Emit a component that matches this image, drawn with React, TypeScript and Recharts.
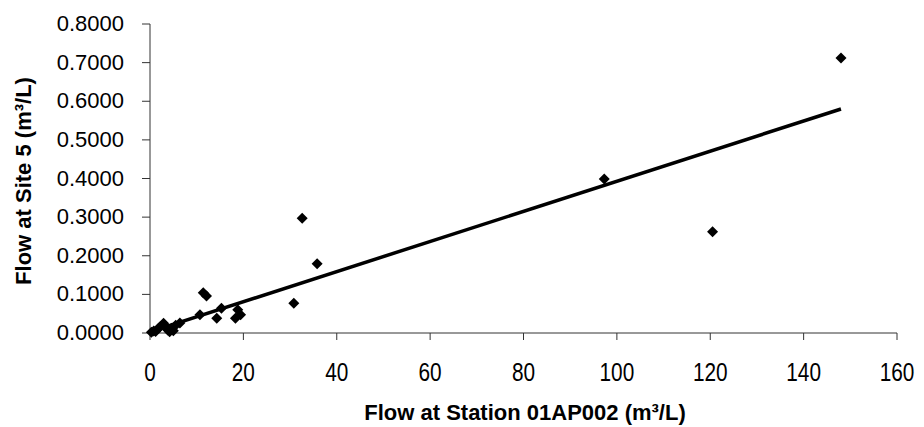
import * as React from "react"
import { ScatterChart, Scatter, XAxis, YAxis } from "recharts"

// flow at station 01AP002 vs flow at site 5
const stationFlow = [0.3, 0.8, 1.2, 1.8, 2.2, 2.9, 3.3, 3.8, 4.2, 4.6, 5.0, 5.5, 6.4, 10.7, 11.4, 12.1, 14.3, 15.3, 18.3, 18.8, 19.4, 30.8, 32.6, 35.8, 97.3, 120.5, 148]
const siteFlow = [0.002, 0.005, 0.004, 0.012, 0.016, 0.025, 0.018, 0.008, 0.003, 0.012, 0.006, 0.02, 0.026, 0.047, 0.104, 0.096, 0.038, 0.064, 0.038, 0.06, 0.047, 0.077, 0.297, 0.179, 0.399, 0.262, 0.712]

// linear trendline end points
const trendX = [0, 148]
const trendY = [0.003, 0.58]

const xTicks = [0, 20, 40, 60, 80, 100, 120, 140, 160]
const yTicks = [0, 0.1, 0.2, 0.3, 0.4, 0.5, 0.6, 0.7, 0.8]

const points = stationFlow.map((x, i) => ({ x, y: siteFlow[i] }))
const trend = trendX.map((x, i) => ({ x, y: trendY[i] }))

const font = "'Liberation Sans', Arial, sans-serif"

const Diamond = (props: any) => {
  const { cx, cy } = props
  const r = 5.5
  return <polygon points={`${cx},${cy - r} ${cx + r},${cy} ${cx},${cy + r} ${cx - r},${cy}`} fill="#000" />
}

const XTick = (props: any) => {
  const { x, payload } = props
  return (
    <text transform={`translate(${x},381) scale(0.8,1)`} textAnchor="middle" fontSize={26} fontFamily={font} fill="#000">
      {payload.value}
    </text>
  )
}

const YTick = (props: any) => {
  const { y, payload } = props
  return (
    <text x={124} y={y} dy={7} textAnchor="end" fontSize={22} fontFamily={font} fill="#000">
      {Number(payload.value).toFixed(4)}
    </text>
  )
}

export default function App() {
  return (
    <div style={{ position: "absolute", left: 0, top: 0, background: "#fff" }}>
      <ScatterChart width={924} height={427} margin={{ top: 24, right: 27, bottom: 0, left: 0 }}>
        <XAxis
          type="number"
          dataKey="x"
          domain={[0, 160]}
          ticks={xTicks}
          height={94}
          tick={<XTick />}
          tickSize={7}
          stroke="#333"
          label={{
            content: () => (
              <text x={525} y={420} textAnchor="middle" fontSize={22} fontWeight="bold" fontFamily={font} fill="#000">
                Flow at Station 01AP002 (m³/L)
              </text>
            ),
          }}
        />
        <YAxis
          type="number"
          dataKey="y"
          domain={[0, 0.8]}
          ticks={yTicks}
          width={150}
          tick={<YTick />}
          tickSize={8}
          stroke="#333"
          label={{
            content: () => (
              <text transform="translate(31,181) rotate(-90)" textAnchor="middle" fontSize={22} fontWeight="bold" fontFamily={font} fill="#000">
                Flow at Site 5 (m³/L)
              </text>
            ),
          }}
        />
        <Scatter data={points} shape={<Diamond />} isAnimationActive={false} />
        <Scatter data={trend} line={{ stroke: "#000", strokeWidth: 3.5 }} shape={() => <g />} isAnimationActive={false} />
      </ScatterChart>
    </div>
  )
}
